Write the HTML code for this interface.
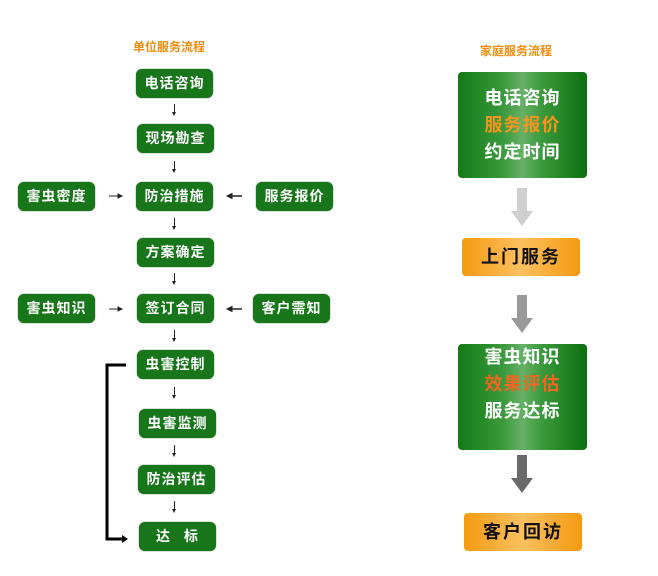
<!DOCTYPE html>
<html><head><meta charset="utf-8"><style>
body{margin:0;width:658px;height:576px;background:#fff;position:relative;overflow:hidden;font-family:"Liberation Sans","Noto Sans CJK SC",sans-serif}
.b{position:absolute;width:77px;height:29px;background:#17761a;border-radius:6px;color:#fff;font-size:14px;font-weight:bold;line-height:29px;text-align:center;letter-spacing:1px;box-shadow:0 0 1px #0a4a0c}
.t{position:absolute;color:#f08c0a;font-size:12px;font-weight:bold}
.d{position:absolute;width:1px;height:10px;background:#222}
.d:after{content:"";position:absolute;left:-2px;bottom:-2px;border-left:2.5px solid transparent;border-right:2.5px solid transparent;border-top:4px solid #222}
.big{position:absolute;left:458px;width:129px;height:106px;border-radius:4px;background:linear-gradient(90deg,#127a16 0%,#3a9a3c 35%,#66b066 50%,#3a9a3c 65%,#0c700f 100%);color:#fff;font-size:18px;font-weight:bold;text-align:center;line-height:27px;padding-top:13px;box-sizing:border-box;letter-spacing:1px}
.or{position:absolute;height:38px;border-radius:4px;background:linear-gradient(90deg,#f49a10,#fdc060 50%,#f49a10);color:#111;font-size:18px;font-weight:bold;text-align:center;line-height:38px;letter-spacing:2px}
.ga{position:absolute;width:18px}
</style></head><body>
<div class="t" style="left:133px;top:38px">单位服务流程</div>
<div class="b" style="left:136px;top:69px">电话咨询</div>
<div class="d" style="left:174px;top:104px"></div>
<div class="b" style="left:137px;top:124px">现场勘查</div>
<div class="d" style="left:174px;top:161px"></div>
<div class="b" style="left:18px;top:182px">害虫密度</div>
<div class="b" style="left:136px;top:182px">防治措施</div>
<div class="b" style="left:256px;top:182px">服务报价</div>
<div class="d" style="left:174px;top:218px"></div>
<div class="b" style="left:137px;top:238px">方案确定</div>
<div class="d" style="left:174px;top:273px"></div>
<div class="b" style="left:18px;top:294px">害虫知识</div>
<div class="b" style="left:137px;top:294px">签订合同</div>
<div class="b" style="left:253px;top:294px">客户需知</div>
<div class="d" style="left:174px;top:330px"></div>
<div class="b" style="left:137px;top:350px">虫害控制</div>
<div class="d" style="left:174px;top:387px"></div>
<div class="b" style="left:139px;top:409px">虫害监测</div>
<div class="d" style="left:174px;top:445px"></div>
<div class="b" style="left:138px;top:465px">防治评估</div>
<div class="d" style="left:174px;top:501px"></div>
<div class="b" style="left:139px;top:522px;word-spacing:8px">达 标</div>
<svg style="position:absolute;left:0;top:0" width="658" height="576">
<g stroke="#222" fill="#222">
<line x1="109" y1="196" x2="119" y2="196" stroke-width="1"/><polygon points="118,194 122,196 118,198"/>
<line x1="109" y1="309" x2="119" y2="309" stroke-width="1"/><polygon points="118,307 122,309 118,311"/>
<line x1="231" y1="196" x2="242" y2="196" stroke-width="1.5"/><polygon points="232,193.5 227,196 232,198.5"/>
<line x1="231" y1="309" x2="242" y2="309" stroke-width="1.5"/><polygon points="232,306.5 227,309 232,311.5"/>
</g>
<polyline points="126,365 107,365 107,539 125,539" fill="none" stroke="#000" stroke-width="3"/>
<polygon points="122,535 128,539 122,543" fill="#000"/>
<rect x="517" y="188" width="10" height="24" fill="#cfcfcf"/><polygon points="511,211 533,211 522,226" fill="#cfcfcf"/>
<rect x="517" y="295" width="10" height="24" fill="#999"/><polygon points="511,318 533,318 522,333" fill="#999"/>
<rect x="517" y="455" width="10" height="24" fill="#6a6a6a"/><polygon points="511,478 533,478 522,493" fill="#6a6a6a"/>
</svg>
<div class="t" style="left:480px;top:42px">家庭服务流程</div>
<div class="big" style="top:72px">电话咨询<br><span style="color:#f7941d">服务报价</span><br>约定时间</div>
<div class="or" style="left:462px;top:238px;width:118px">上门服务</div>
<div class="big" style="top:344px;padding-top:0">害虫知识<br><span style="color:#f26522">效果评估</span><br>服务达标</div>
<div class="or" style="left:464px;top:513px;width:118px">客户回访</div>
</body></html>
